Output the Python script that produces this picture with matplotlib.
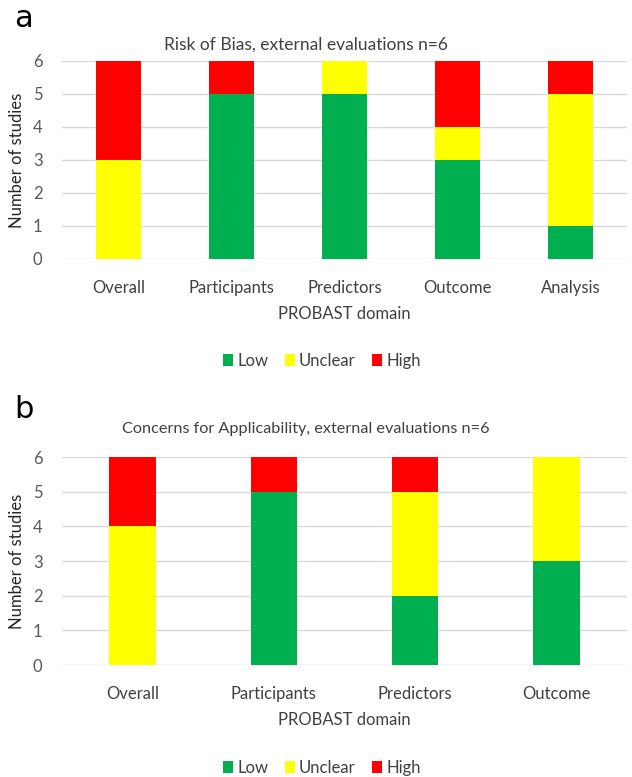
import matplotlib.pyplot as plt
import numpy as np

# panel a: risk of bias
domains_a = ["Overall", "Participants", "Predictors", "Outcome", "Analysis"]
low_a = [0, 5, 5, 3, 1]
unclear_a = [3, 0, 1, 1, 4]
high_a = [3, 1, 0, 2, 1]

# panel b: applicability
domains_b = ["Overall", "Participants", "Predictors", "Outcome"]
low_b = [0, 5, 2, 3]
unclear_b = [4, 0, 3, 3]
high_b = [2, 1, 1, 0]

colors = {"Low": "#00B050", "Unclear": "#FFFF00", "High": "#FF0000"}

plt.rcParams['font.family'] = ['Lato', 'DejaVu Sans']

fig = plt.figure(figsize=(6.32, 7.77), dpi=100)


def draw_panel(ax, domains, low, unclear, high, title, letter, width,
               title_pad, title_size, letter_y, legend_y):
    x = np.arange(len(domains))
    low = np.array(low)
    unclear = np.array(unclear)
    ax.bar(x, low, width, color=colors["Low"], label="Low", zorder=3)
    ax.bar(x, unclear, width, bottom=low, color=colors["Unclear"], label="Unclear", zorder=3)
    ax.bar(x, high, width, bottom=low + unclear, color=colors["High"], label="High", zorder=3)
    ax.set_ylim(0, 6)
    ax.set_xlim(-0.5, len(domains) - 0.5)
    ax.set_yticks(range(7))
    ax.set_xticks(x)
    ax.set_xticklabels(domains, fontsize=12, color="#404040")
    ax.tick_params(axis="y", labelsize=12, labelcolor="#595959", length=0, pad=14)
    ax.tick_params(axis="x", length=0, pad=15)
    ax.grid(axis="y", color="#d9d9d9", linewidth=1, zorder=0)
    for s in ax.spines.values():
        s.set_visible(False)
    ax.set_ylabel("Number of studies", fontsize=12, color="#262626", labelpad=6)
    ax.set_xlabel("PROBAST domain", fontsize=12, color="#404040", labelpad=7)
    ax.set_title(title, fontsize=title_size, color="#404040", pad=title_pad, x=0.432)
    ax.text(-0.085, letter_y, letter, transform=ax.transAxes, fontsize=22,
            family="DejaVu Sans", va="top")
    handles, labels = ax.get_legend_handles_labels()
    ax.legend(handles, labels, loc="center", bbox_to_anchor=(0.46, legend_y),
              ncol=3, frameon=False, fontsize=12, handlelength=0.6,
              handleheight=0.7, handletextpad=0.25, columnspacing=1.0,
              labelcolor="#404040")


ax1 = fig.add_axes([0.098, 0.6667, 0.894, 0.2548])
draw_panel(ax1, domains_a, low_a, unclear_a, high_a,
           "Risk of Bias, external evaluations n=6", "a", 0.4,
           8, 12.5, 1.29, -0.515)

ax2 = fig.add_axes([0.098, 0.1441, 0.894, 0.2677])
draw_panel(ax2, domains_b, low_b, unclear_b, high_b,
           "Concerns for Applicability, external evaluations n=6", "b", 0.33,
           17, 11.7, 1.30, -0.495)

fig.savefig("out.png", dpi=100)
